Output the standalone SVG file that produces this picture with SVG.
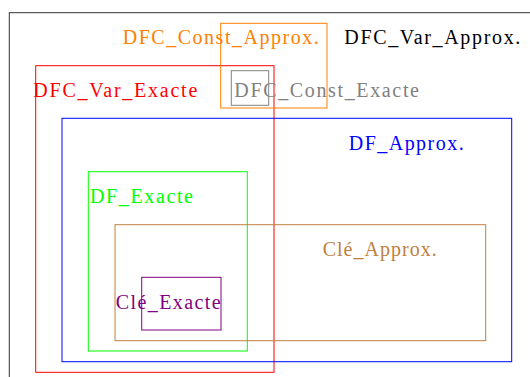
<svg xmlns="http://www.w3.org/2000/svg" width="530" height="377" viewBox="0 0 530 377">
<style>
.box { fill: none; stroke-width: 1; }
text { font-family: "Liberation Serif", "DejaVu Serif", serif; font-size: 20px; }
</style>
<rect x="0" y="0" width="530" height="377" fill="#ffffff"/>
<g id="frame"><rect class="box" x="9.3" y="12.7" width="600" height="420" style="stroke:#333333"/></g>
<g id="DFC_Var_Approx">
<text x="344.3" y="44.3" fill="#000000" textLength="176" lengthAdjust="spacing">DFC_Var_Approx.</text>
</g>
<g id="DFC_Var_Exacte">
<rect class="box" x="35.7" y="65.7" width="238.3" height="306.6" style="stroke:#ff0000"/>
<text x="33.3" y="96.7" fill="#ff0000" textLength="164" lengthAdjust="spacing">DFC_Var_Exacte</text>
</g>
<g id="DFC_Const_Approx">
<rect class="box" x="220.7" y="23.3" width="106.3" height="84.7" style="stroke:#ff8000"/>
<text x="122.7" y="44.3" fill="#ff8000" textLength="196" lengthAdjust="spacing">DFC_Const_Approx.</text>
</g>
<g id="DFC_Const_Exacte">
<rect class="box" x="231.3" y="70.7" width="37.4" height="34.6" style="stroke:#808080"/>
<text x="234.3" y="96.7" fill="#808080" textLength="184.7" lengthAdjust="spacing">DFC_Const_Exacte</text>
</g>
<g id="DF_Approx">
<rect class="box" x="62" y="118.3" width="449.7" height="243.4" style="stroke:#0000ff"/>
<text x="348.7" y="150" fill="#0000ff" textLength="115" lengthAdjust="spacing">DF_Approx.</text>
</g>
<g id="DF_Exacte">
<rect class="box" x="88.3" y="171.7" width="159" height="179.3" style="stroke:#00ff00"/>
<text x="90" y="202.7" fill="#00ff00" textLength="103" lengthAdjust="spacing">DF_Exacte</text>
</g>
<g id="Cle_Approx">
<rect class="box" x="115" y="224.7" width="370.7" height="116" style="stroke:#bf8040"/>
<text x="322.7" y="255.7" fill="#bf8040" textLength="114" lengthAdjust="spacing">Clé_Approx.</text>
</g>
<g id="Cle_Exacte">
<rect class="box" x="141.7" y="277.3" width="79.3" height="52.7" style="stroke:#800080"/>
<text x="115.7" y="309" fill="#800080" textLength="105" lengthAdjust="spacing">Clé_Exacte</text>
</g>
<g id="connectors"/>
</svg>
